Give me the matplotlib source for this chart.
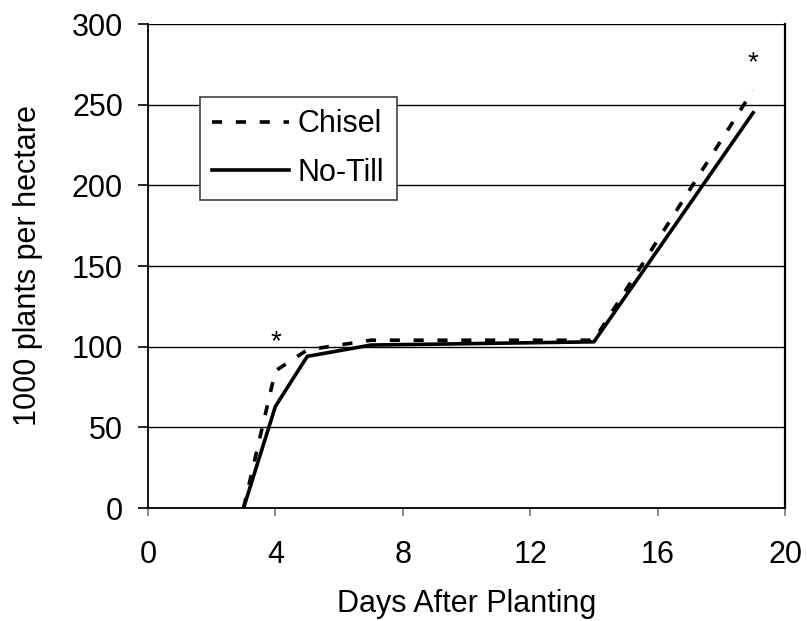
import matplotlib
matplotlib.use("Agg")
import matplotlib.pyplot as plt

days = [3, 4, 5, 7, 14, 19]
chisel = [0, 85, 98, 104, 104, 259]
no_till = [0, 63, 94, 101, 103, 245]

# significance markers (asterisks)
star_x = [4, 19]
star_y = [103, 276]

plt.rcParams["font.family"] = ["Liberation Sans", "DejaVu Sans"]

fig = plt.figure(figsize=(8.07, 6.21), dpi=100)
ax = fig.add_axes([148 / 807, 113 / 621, 637 / 807, 484 / 621])

ax.plot(days, chisel, color="black", lw=2.6, linestyle=(0, (2.8, 3.8)), label="Chisel")
ax.plot(days, no_till, color="black", lw=2.6, label="No-Till")

for sx, sy in zip(star_x, star_y):
    ax.text(sx, sy, "*", ha="center", va="center", fontsize=20)

ax.set_xlim(0, 20)
ax.set_ylim(0, 300)
ax.set_xticks([0, 4, 8, 12, 16, 20])
ax.set_yticks(range(0, 301, 50))
ax.grid(axis="y", color="black", lw=1.0)
ax.set_axisbelow(True)

ax.spines["left"].set_color("black")
ax.spines["bottom"].set_color("black")
ax.spines["left"].set_linewidth(1.3)
ax.spines["bottom"].set_linewidth(1.3)
ax.spines["right"].set_color("black")
ax.spines["right"].set_linewidth(1.6)
ax.spines["top"].set_visible(False)
ax.tick_params(axis="x", direction="out", length=6, width=1.3, color="#808080",
               labelsize=22, pad=17)
ax.tick_params(axis="y", direction="out", length=7, width=1.2, color="black",
               labelsize=22, pad=11)

ax.set_xlabel("Days After Planting", fontsize=22, labelpad=14)
ax.set_ylabel("1000 plants per hectare", fontsize=22, labelpad=21)

leg = ax.legend(loc="upper left", bbox_to_anchor=(52 / 637, 411 / 484), borderaxespad=0,
                fontsize=22, frameon=True, fancybox=False, edgecolor="#404040",
                handlelength=2.5, borderpad=0.4, labelspacing=0.6, handletextpad=0.3)
leg.get_frame().set_linewidth(1.2)
leg.get_frame().set_alpha(1)

fig.savefig("out.png", dpi=100)
